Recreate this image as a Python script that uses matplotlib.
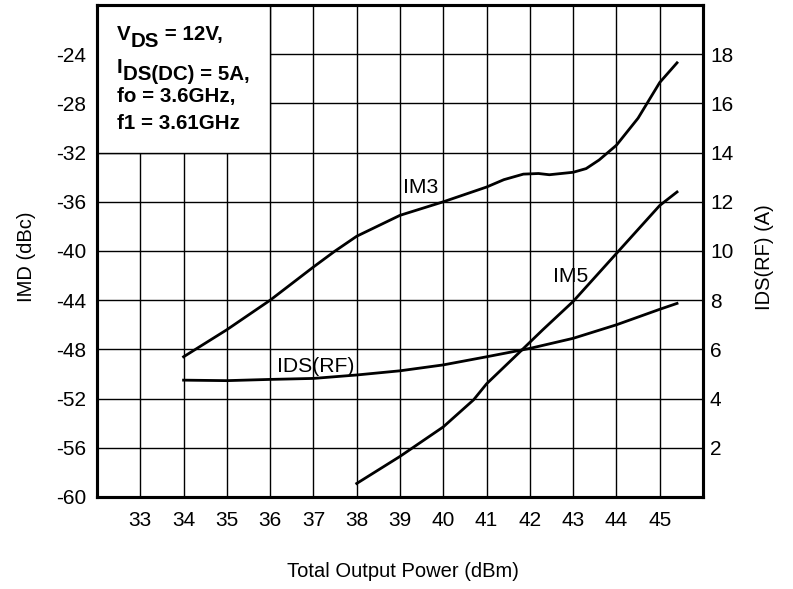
import matplotlib
matplotlib.use('Agg')
import matplotlib.pyplot as plt
from matplotlib.patches import Rectangle

plt.rcParams['font.family'] = ['Liberation Sans', 'DejaVu Sans']
plt.rcParams['axes.unicode_minus'] = False

# IM3 / IM5 in dBc (left axis), IDS(RF) in A (right axis)
im3_x = [34, 35, 35.5, 36, 37, 37.5, 38, 39, 40, 41, 41.4, 41.85, 42.2, 42.45, 43.0, 43.3, 43.6, 44.0, 44.5, 45.0, 45.4]
im3_y = [-48.6, -46.4, -45.2, -44.0, -41.3, -40.0, -38.8, -37.1, -36.0, -34.8, -34.2, -33.75, -33.7, -33.8, -33.6, -33.3, -32.6, -31.4, -29.2, -26.3, -24.7]

im5_x = [38, 39, 40, 40.7, 41, 41.8, 42.3, 43, 44, 45, 45.4]
im5_y = [-58.9, -56.7, -54.3, -52.1, -50.8, -48.1, -46.4, -44.1, -40.2, -36.3, -35.2]

ids_x = [34, 35, 36, 37, 38, 39, 40, 41, 42, 43, 44, 45, 45.4]
ids_a = [4.75, 4.73, 4.78, 4.82, 4.96, 5.13, 5.37, 5.7, 6.04, 6.45, 7.0, 7.63, 7.87]

x_ticks = list(range(33, 46))
imd_ticks = list(range(-60, -20, 4))
ids_ticks = list(range(2, 20, 2))

fig = plt.figure(figsize=(7.93, 5.89), dpi=100)
ax = fig.add_axes([97/793, 1-497/589, 606/793, 492/589])
ax2 = ax.twinx()

ax.set_xlim(32, 46)
ax.set_ylim(-60, -20)
ax2.set_ylim(0, 20)

# grid
for v in range(33, 46):
    ax.axvline(v, color='black', lw=1.0, zorder=0.5)
for v in range(-56, -20, 4):
    ax.axhline(v, color='black', lw=1.0, zorder=0.5)

# white box for conditions
ax.add_patch(Rectangle((32, -32), 4, 12, facecolor='white', edgecolor='black', lw=1.0, zorder=1))

ax.plot(im3_x, im3_y, color='black', lw=2.0, zorder=3)
ax.plot(im5_x, im5_y, color='black', lw=2.0, zorder=3)
ax2.plot(ids_x, ids_a, color='black', lw=2.0, zorder=3)

ax.text(39.07, -34.8, 'IM3', fontsize=15.2, va='center', ha='left', zorder=4)
ax.text(42.53, -42.1, 'IM5', fontsize=15.2, va='center', ha='left', zorder=4)
ax.text(36.15, -49.4, 'IDS(RF)', fontsize=15.2, va='center', ha='left', zorder=4)

# condition text with big subscripts
fs = 14.8
t1 = ax.text(32.46, -22.85, 'V', fontsize=fs, fontweight='bold', va='baseline', zorder=4)
t1b = ax.annotate('DS', xy=(1, 0), xycoords=t1, xytext=(0, -5), textcoords='offset points',
                  fontsize=fs, fontweight='bold', va='bottom', zorder=4)
ax.annotate(' = 12V,', xy=(1, 0), xycoords=t1b, xytext=(0, 5), textcoords='offset points',
            fontsize=fs, fontweight='bold', va='bottom', zorder=4)
t2 = ax.text(32.46, -25.5, 'I', fontsize=fs, fontweight='bold', va='baseline', zorder=4)
ax.annotate('DS(DC) = 5A,', xy=(1, 0), xycoords=t2, xytext=(0, -5), textcoords='offset points',
            fontsize=fs, fontweight='bold', va='bottom', zorder=4)
ax.text(32.46, -27.86, 'fo = 3.6GHz,', fontsize=fs, fontweight='bold', va='baseline', zorder=4)
ax.text(32.46, -30.08, 'f1 = 3.61GHz', fontsize=fs, fontweight='bold', va='baseline', zorder=4)

ax.set_xticks(x_ticks)
ax.set_yticks(imd_ticks)
ax2.set_yticks(ids_ticks)
ax.tick_params(axis='x', length=0, labelsize=15, pad=10)
ax.tick_params(axis='y', length=0, labelsize=15, pad=8)
ax2.tick_params(axis='y', length=0, labelsize=15, pad=5)

for a in (ax, ax2):
    for s in a.spines.values():
        s.set_linewidth(2.2)

ax.set_xlabel('Total Output Power (dBm)', fontsize=14.5, va='center')
ax.xaxis.set_label_coords(0.505, -0.152)
ax.set_ylabel('IMD (dBc)', fontsize=14.5, va='center')
ax.yaxis.set_label_coords(-0.117, 0.488)
ax2.set_ylabel('IDS(RF) (A)', fontsize=14.5, va='center')
ax2.yaxis.set_label_coords(1.102, 0.488)

fig.savefig('out.png', dpi=100)
